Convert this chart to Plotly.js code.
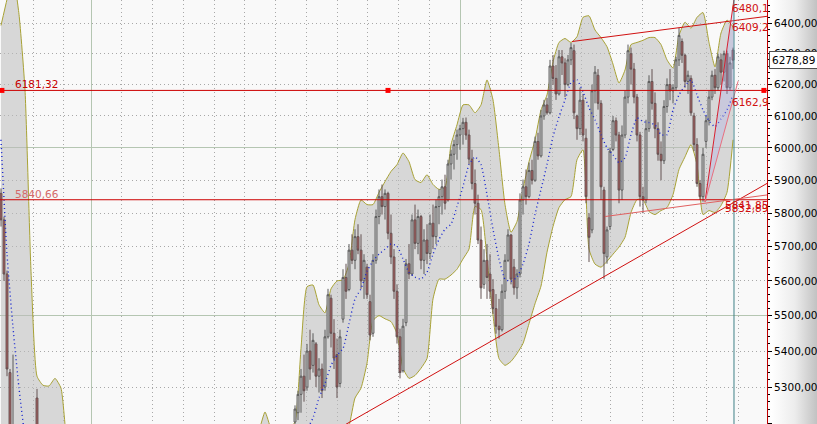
<!DOCTYPE html>
<html><head><meta charset="utf-8">
<script src="https://cdn.plot.ly/plotly-3.0.1.min.js"></script>
<style>
html,body{margin:0;padding:0;background:#f9f9f9;}
#wrap{position:relative;width:817px;height:424px;overflow:hidden;
background:linear-gradient(to right,#f9f9f9 0px,#f9f9f9 767px,#ffffff 771px,#ececec 795px,#c2c2c2 817px);}
#chart{position:absolute;left:0;top:0;width:817px;height:424px;}
</style></head><body><div id="wrap"><div id="chart"></div></div>
<script>
// ---------- candles (bar index 0..244); bars 13..97 lie below the visible price range ----------
const leftOpen  = [5860,5780,5620,5340,5130,null,null,null,null,null,null,null,5270];
const leftHigh  = [5875,5790,5630,5350,5390,null,null,null,null,null,null,null,5295];
const leftLow   = [5760,5600,5330,5120,5080,null,null,null,null,null,null,null,5120];
const leftClose = [5780,5620,5350,5140,5190,null,null,null,null,null,null,null,5150];
const hiddenBars = 85;
const mainOpen = [
5205,5230,5280,5330,5300,5400,5360,5420,5330,5350,
5300,5440,5550,5450,5390,5310,5490,5610,5575,5690,
5660,5730,5690,5600,5640,5540,5450,5660,5790,5850,
5820,5860,5740,5670,5570,5440,5345,5480,5650,5620,
5780,5710,5790,5660,5720,5680,5770,5730,5820,5850,
5880,5840,5950,5980,6010,6040,6060,6080,6040,5965,
5890,5830,5720,5590,5660,5620,5575,5520,5470,5460,
5570,5660,5735,5640,5580,5620,5840,5880,5850,5930,
5900,6020,5975,6100,6135,6110,6260,6220,6170,6290,
6270,6200,6280,6310,6100,6060,6150,6030,5786,5750,
6180,6230,6140,5870,5670,5760,5995,6085,6040,5870,
6040,6160,6300,6250,6160,6040,5850,5840,6060,6210,
6140,6060,5980,5960,6130,6200,6180,6190,6280,6340,
6295,6210,6220,6100,6010,5890,5850,6020,6085,6160,
6230,6190,6280,6240,6300,6190,6312];
const mainHigh = [
5250,5290,5350,5390,5420,5460,5450,5425,5380,5365,
5460,5577,5560,5490,5435,5460,5634,5650,5708,5737,
5752,5767,5737,5678,5650,5560,5678,5811,5872,5887,
5872,5865,5796,5693,5590,5463,5491,5664,5708,5796,
5826,5811,5795,5752,5767,5796,5826,5841,5872,5902,
5917,5963,5994,6025,6057,6072,6094,6095,6057,5994,
5933,5856,5760,5693,5708,5678,5605,5562,5548,5590,
5678,5752,5737,5664,5634,5860,5902,5933,5954,5963,
6035,6047,6119,6151,6157,6280,6296,6263,6312,6312,
6285,6296,6335,6330,6104,6190,6170,6060,5800,6200,
6260,6250,6150,5880,5760,6000,6100,6095,6050,6070,
6180,6330,6320,6270,6170,6050,5880,6088,6230,6250,
6175,6080,6020,6150,6220,6250,6200,6290,6385,6350,
6300,6245,6230,6110,6030,5900,6000,6100,6180,6245,
6250,6300,6300,6310,6310,6290,6320];
const mainLow = [
5200,5210,5230,5260,5290,5320,5340,5300,5285,5270,
5290,5435,5410,5350,5270,5300,5480,5548,5570,5649,
5634,5678,5577,5548,5548,5430,5440,5650,5767,5796,
5781,5722,5649,5548,5421,5324,5340,5470,5605,5615,
5693,5678,5634,5620,5649,5664,5693,5708,5767,5796,
5811,5835,5902,5933,5963,5994,6010,6025,5948,5872,
5796,5708,5548,5577,5548,5548,5505,5449,5435,5455,
5548,5655,5590,5560,5548,5610,5796,5826,5845,5887,
5895,5963,5970,6088,6104,6105,6199,6151,6165,6231,
6160,6195,6263,6090,6025,6040,6020,5830,5655,5740,
6140,6120,5840,5605,5650,5750,5990,6020,5830,5840,
6030,6140,6200,6140,6020,5820,5800,5830,6050,6120,
6030,5960,5900,5950,6110,6150,6140,6180,6260,6270,
6190,6170,6100,5990,5880,5840,5835,6000,6070,6150,
6170,6180,6200,6210,6170,6180,6250];
const mainClose = [
5240,5280,5330,5290,5400,5350,5430,5330,5350,5290,
5440,5560,5450,5380,5300,5440,5610,5570,5690,5660,
5730,5690,5600,5660,5560,5445,5660,5790,5850,5820,
5860,5740,5670,5570,5440,5340,5470,5650,5620,5780,
5710,5790,5660,5720,5680,5770,5730,5820,5850,5880,
5830,5950,5980,6010,6040,6060,6080,6040,5965,5890,
5830,5720,5580,5660,5610,5570,5520,5470,5460,5570,
5660,5735,5605,5580,5620,5840,5880,5850,5930,5900,
6020,5975,6100,6135,6110,6260,6220,6170,6290,6270,
6200,6280,6320,6110,6060,6150,6040,5850,5728,6180,
6240,6140,5880,5680,5750,5990,6085,6040,5870,6040,
6160,6310,6250,6160,6040,5850,5840,6060,6210,6140,
6060,5980,5960,6130,6200,6180,6190,6280,6360,6295,
6210,6230,6110,6010,5890,5850,5980,6085,6160,6230,
6190,6290,6240,6300,6190,6270,6278.89];

// ---------- Bollinger bands, one point every 2 bars (k = 0..122) ----------
const bandEvery = 2;
const upperLeft   = [6393,6480,6560,6430,6183,5628,5330,5305,5303,5324,5297];
const upperHidden = [5150,5100,5070,5040,5020,5000,4990,4985,4990,5000,5010,5020,5030,5040,5050,5060,
                     5070,5080,5090,5100,5110,5120,5130,5140,5150,5160,5165,5170,5175,5180,5180,5175];
const upperMain = [5185,5232,5185,5150,5160,5185,5205,5407,5583,5588,5531,5508,5577,5600,5603,5649,
  5781,5840,5826,5826,5863,5896,5927,5948,5984,5957,5902,5893,5917,5887,5872,5878,6010,6072,6135,6135,
  6110,6135,6215,6151,5994,5826,5743,5775,5872,5957,6025,6119,6167,6273,6337,6350,6337,6356,6420,6425,
  6378,6353,6323,6266,6205,6247,6330,6337,6344,6353,6353,6330,6280,6254,6360,6404,6384,6420,6436,6337,
  6257,6368,6411,6388];
const lowerHidden = [5050,4980,4900,4830,4770,4720,4690,4670,4660,4660,4665,4670,4680,4690,4700,4710,
  4720,4730,4740,4750,4760,4770,4780,4790,4800,4810,4820,4830,4840,4850,4860,4870,4880,4890,4900,4910,
  4920,4930,4940,4950,4960,4970,4980,4990,5000,5010,5020,5030,5040,5050,5060,5070,5080,5090,5110,5130,
  5150,5170];
const lowerMain = [5195,5270,5297,5366,5486,5500,5491,5483,5449,5352,5324,5332,5352,5379,5548,5605,
  5605,5617,5634,5664,5693,5820,5811,5664,5502,5379,5360,5371,5393,5421,5477,5534,5585,5684,5760,5817,
  5841,5850,5963,5994,5693,5649,5640,5657,5678,5699,5728,5802,5841,5841,5805,5796,5808,5817,5856,5933,
  5972,6010,5948,5796,5808,5802,5823,5863,6025];
const midLeft   = [6025,5678,5466,5297];
const midHidden = [5164,5080,5010,4960,4920,4890,4870,4860,4855,4855,4860,4865,4870,4880,4890,4900,
  4910,4920,4930,4940,4950,4960,4970,4980,4990,5000,5010,5020,5030,5040,5050,5060,5070,5075,5080,5085,
  5090,5095,5100,5105,5110,5115,5120,5130,5140,5150,5165,5185];
const midMain = [5216,5270,5310,5360,5388,5407,5477,5548,5577,5628,5658,5678,5693,5708,5702,5664,5625,
  5611,5605,5625,5678,5722,5752,5767,5820,5881,5948,5972,5948,5856,5752,5664,5605,5599,5611,5649,5708,
  5796,5872,5948,6035,6097,6151,6206,6215,6177,6126,6088,6041,6000,5978,5954,5969,6041,6094,6082,6079,
  6072,6041,6041,6119,6167,6196,6215,6167,6119,6085,6066,6091,6119,6167];

// ---------- calendar grid (bar positions of month / year starts) ----------
const monthBars = [10.67,20.67,30,40.33,50.57,60.83,71.07,81.3,91.53,101.8,112.03,122.27,132.5,142.77,
                   153,163.23,173.43,183.67,193.5,203.33,213.83,224.33,235.33,245.67];
const yearBars = [30,153];
const solidLevels = [5500,6000];

// ---------- drawing tools ----------
const levels = [6181.32, 5840.66];
const levelHandleBars = [0.3, 129, 254.3];
const cursorBar = 244.33;
const supportBars = [116.33, cursorBar];  const supportPrices = [5205, 5832.89];
const chanUpBars  = [190.33, cursorBar];  const chanUpPrices  = [6340, 6409.2];
const chanLowBars = [201.33, cursorBar];  const chanLowPrices = [5790, 5841.85];
const fanBars     = [234.67, cursorBar];  const fanPrices = [5834, 6480.1, 6162.9];
const lastClose = 6278.89;

// ---------- build ----------
const open  = leftOpen.concat(Array(hiddenBars).fill(null), mainOpen);
const high  = leftHigh.concat(Array(hiddenBars).fill(null), mainHigh);
const low   = leftLow.concat(Array(hiddenBars).fill(null), mainLow);
const close = leftClose.concat(Array(hiddenBars).fill(null), mainClose);
const upper = upperLeft.concat(upperHidden, upperMain);
const lower = lowerHidden.concat(lowerMain);
const mid   = midLeft.concat(midHidden, midMain);
if (open.length !== 245 || high.length !== 245 || low.length !== 245 || close.length !== 245)
  throw new Error('candle length ' + [open.length, high.length, low.length, close.length]);
if (upper.length !== 123 || lower.length !== 123 || mid.length !== 123)
  throw new Error('band length ' + [upper.length, lower.length, mid.length]);
const bars = open.map((_, i) => i);
const bandX = upper.map((_, k) => k * bandEvery);

const xRange = [-1/3, 255 + 1/3];
const yMin = 5199.5, yMax = 6478;
const yRange = [Math.log10(yMin), Math.log10(yMax)];
const L = Math.log10;
const fmt = (v, d) => v.toFixed(d).replace('.', ',');
function lineAt(b0, p0, b1, p1, b) {
  const t = (b - b0) / (b1 - b0);
  return Math.pow(10, L(p0) + t * (L(p1) - L(p0)));
}
function ray(bs, ps, bStart, bEnd) {
  return {x: [bStart, bEnd], y: [lineAt(bs[0], ps[0], bs[1], ps[1], bStart), lineAt(bs[0], ps[0], bs[1], ps[1], bEnd)]};
}

const RED = '#d01010';
const traces = [];
// main subplot: band
traces.push({type:'scatter', mode:'lines', x: bandX, y: lower, line:{color:'#a8a235', width:1, shape:'spline', smoothing:0.5}, hoverinfo:'skip'});
traces.push({type:'scatter', mode:'lines', x: bandX, y: upper, fill:'tonexty', fillcolor:'rgba(188,188,188,0.55)',
  line:{color:'#a8a235', width:1, shape:'spline', smoothing:0.5}, hoverinfo:'skip'});
// overlay subplot: candles and everything on top
traces.push({type:'candlestick', xaxis:'x2', yaxis:'y2', x: bars, open, high, low, close, whiskerwidth:0,
  increasing:{line:{color:'#5a5a5a', width:1}, fillcolor:'#dcdcdc'},
  decreasing:{line:{color:'#645252', width:1}, fillcolor:'#b05858'}, hoverinfo:'skip'});
traces.push({type:'scatter', mode:'lines', xaxis:'x2', yaxis:'y2', x: bandX, y: mid,
  line:{color:'#1a28d0', width:1.4, dash:'1px,3px', shape:'spline', smoothing:0.5}, hoverinfo:'skip'});
// horizontal levels
levels.forEach(v => traces.push({type:'scatter', mode:'lines', xaxis:'x2', yaxis:'y2', x: xRange, y: [v, v],
  line:{color:'#cc0000', width:1}, hoverinfo:'skip'}));
traces.push({type:'scatter', mode:'markers', xaxis:'x2', yaxis:'y2', x: levelHandleBars, y: levelHandleBars.map(() => levels[0]),
  marker:{symbol:'square', size:5, color:'#ff0000'}, hoverinfo:'skip'});
// trend lines
const sup = ray(supportBars, supportPrices, 110, 256);
const cu = ray(chanUpBars, chanUpPrices, chanUpBars[0], 256);
const cl = ray(chanLowBars, chanLowPrices, chanLowBars[0], 256);
traces.push({type:'scatter', mode:'lines', xaxis:'x2', yaxis:'y2', x: sup.x, y: sup.y, line:{color:RED, width:1}, hoverinfo:'skip'});
traces.push({type:'scatter', mode:'lines', xaxis:'x2', yaxis:'y2', x: cu.x, y: cu.y, line:{color:RED, width:1}, hoverinfo:'skip'});
traces.push({type:'scatter', mode:'lines', xaxis:'x2', yaxis:'y2', x: cl.x, y: cl.y, line:{color:'#e06060', width:1}, hoverinfo:'skip'});
// fan / triangle
traces.push({type:'scatter', mode:'lines', xaxis:'x2', yaxis:'y2',
  x: [fanBars[0], fanBars[1], fanBars[1], fanBars[0]], y: [fanPrices[0], fanPrices[1], fanPrices[2], fanPrices[0]],
  fill:'toself', fillcolor:'rgba(165,165,235,0.28)', line:{width:0}, hoverinfo:'skip'});
const f1 = ray([fanBars[0], fanBars[1]], [fanPrices[0], fanPrices[1]], fanBars[0], 246);
const f2 = ray([fanBars[0], fanBars[1]], [fanPrices[0], fanPrices[2]], fanBars[0], 245.7);
traces.push({type:'scatter', mode:'lines', xaxis:'x2', yaxis:'y2', x: f1.x, y: f1.y, line:{color:'#d82030', width:1}, hoverinfo:'skip'});
traces.push({type:'scatter', mode:'lines', xaxis:'x2', yaxis:'y2', x: f2.x, y: f2.y, line:{color:'#e87080', width:1}, hoverinfo:'skip'});
// cursor line
traces.push({type:'scatter', mode:'lines', xaxis:'x2', yaxis:'y2', x: [cursorBar, cursorBar], y: [yMin, yMax],
  line:{color:'#3f8087', width:1}, hoverinfo:'skip'});

const FONT = 'DejaVu Sans, Verdana, sans-serif';
const lab = (x, v, d, color, shift) => ({x, y: L(v), xref:'x', yref:'y', text: fmt(v, d), showarrow:false,
  xanchor:'left', yanchor:'middle', yshift: shift, font:{family:FONT, size:10.5, color}});
const annotations = [
  lab(4, levels[0], 2, '#c80000', 6.5),
  lab(4, levels[1], 2, '#d46a6a', 6),
  // value at the top edge of the chart: anchored to the plot's top
  {x: 243, xref:'x', y: 1, yref:'paper', yanchor:'top', xanchor:'left', text: fmt(fanPrices[1], 1), showarrow:false,
   font:{family:FONT, size:10.5, color:RED}},
  lab(243, chanUpPrices[1], 1, RED, -6),
  lab(243, fanPrices[2], 1, RED, -6),
  lab(240.5, chanLowPrices[1], 2, RED, -6),
  lab(240.5, supportPrices[1], 2, RED, -6),
  {xref:'paper', x:1, xanchor:'left', xshift:2, y: L(lastClose), yref:'y', yanchor:'middle', text: fmt(lastClose, 2),
   showarrow:false, bgcolor:'#ffffff', bordercolor:'#505050', borderwidth:1, borderpad:2,
   font:{family:FONT, size:10.5, color:'#000'}}
];

const layout = {
  width: 817, height: 424,
  margin: {l:0, r:50, t:0, b:0, pad:0},
  paper_bgcolor: 'rgba(0,0,0,0)', plot_bgcolor: '#f9f9f9',
  showlegend: false, separators: ', ', boxgap: 0.1,
  font: {family: FONT, size: 10.5, color: '#000'},
  xaxis: {range: xRange, showticklabels:false, ticks:'', zeroline:false, showline:false,
    tickmode:'array', tickvals: monthBars, showgrid:true, gridcolor:'#a8a8a8', griddash:'1px,3px', gridwidth:1,
    rangeslider:{visible:false}, automargin:false},
  yaxis: {type:'log', range: yRange, side:'right', tick0: 5200, dtick:'L100', tickformat:'.2f',
    ticks:'outside', ticklen:4, tickcolor:'#000', tickwidth:1, showline:true, linecolor:'#c00000', linewidth:1,
    showgrid:true, gridcolor:'#a8a8a8', griddash:'1px,3px', zeroline:false, automargin:false,
    minor:{dtick:'L20', tick0: 5200, ticks:'outside', ticklen:2, tickcolor:'#000', showgrid:false},
    tickfont:{family:FONT, size:10.5, color:'#000'}},
  xaxis2: {overlaying:'x', anchor:'y2', range: xRange, tickmode:'array', tickvals: yearBars, showgrid:true,
    gridcolor:'#b5c6b2', gridwidth:1, showticklabels:false, ticks:'', zeroline:false, showline:false,
    rangeslider:{visible:false}},
  yaxis2: {overlaying:'y', anchor:'x2', type:'log', range: yRange, side:'right', tickmode:'array', tickvals: solidLevels,
    showgrid:true, gridcolor:'#b5c6b2', gridwidth:1, showticklabels:false, ticks:'', zeroline:false, showline:false},
  annotations
};
Plotly.newPlot('chart', traces, layout, {staticPlot:true, displayModeBar:false});
</script></body></html>
